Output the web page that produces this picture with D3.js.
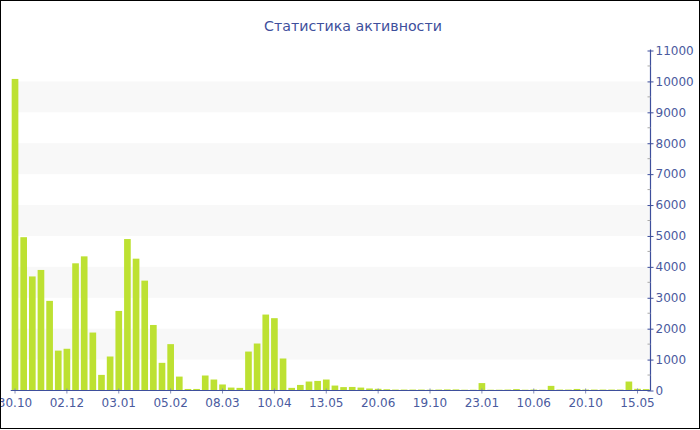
<!DOCTYPE html>
<html>
<head>
<meta charset="utf-8">
<script src="https://cdn.jsdelivr.net/npm/d3@7"></script>
<style>
  html, body { margin: 0; padding: 0; background: #fff; }
  svg { display: block; font-family: "DejaVu Sans", Verdana, sans-serif; }
</style>
</head>
<body>
<svg id="chart" width="700" height="430"></svg>
<script>
const title = "Статистика активности";
const values = [
  10080, 4960, 3690, 3900, 2900, 1290, 1350, 4115, 4340, 1875,
  505, 1100, 2575, 4900, 4265, 3555, 2120, 895, 1500, 450,
  50, 50, 485, 355, 195, 95, 85, 1260, 1520, 2457,
  2340, 1035, 85, 180, 290, 310, 355, 160, 110, 115,
  95, 65, 55, 40, 30, 30, 30, 30, 25, 30,
  35, 35, 25, 25, 240, 25, 25, 30, 45, 25,
  30, 25, 150, 30, 30, 50, 30, 30, 30, 30,
  30, 290, 55, 45
];
const tickLabels = ["30.10", "02.12", "03.01", "05.02", "08.03", "10.04", "13.05",
                    "20.06", "19.10", "23.01", "10.06", "20.10", "15.05"];
const tickEvery = 6;
const yTicks = d3.range(0, 11001, 1000);
const yMinor = d3.range(500, 11000, 1000);

(function () {
const svg = d3.select("#chart");
const W = 700, H = 430;
const mLeft = 10.7, mRight = 650.5, mTop = 50.5, mBottom = 390.5;

svg.append("rect").attr("x", 0).attr("y", 0).attr("width", W).attr("height", H).attr("fill", "#fff");

const cats = values.map((v, i) => i);
const x = d3.scaleBand().domain(cats).range([mLeft, mRight]).paddingInner(0.23).paddingOuter(0.115);
const y = d3.scaleLinear().domain([0, 11000]).range([mBottom, mTop]);

// alternating bands
const bands = d3.range(1000, 11000, 2000);
svg.append("g").selectAll("rect").data(bands).join("rect")
  .attr("x", mLeft + 1).attr("width", mRight - mLeft - 1)
  .attr("y", d => y(d + 1000)).attr("height", d => y(d) - y(d + 1000))
  .attr("fill", "#f8f8f8");

// bars
svg.append("g").selectAll("rect").data(values).join("rect")
  .attr("x", (d, i) => x(i)).attr("width", x.bandwidth())
  .attr("y", d => y(d)).attr("height", d => mBottom - y(d))
  .attr("fill", "#bde132");

// x axis
const tickIdx = tickLabels.map((t, k) => k * tickEvery);
const xAxis = d3.axisBottom(x).tickValues(tickIdx)
  .tickFormat(i => tickLabels[i / tickEvery]).tickSize(3).tickPadding(5);
const gx = svg.append("g").attr("transform", `translate(0,${mBottom})`).call(xAxis);
gx.select(".domain").remove();
gx.append("line").attr("x1", mLeft).attr("x2", mRight).attr("y1", 0).attr("y2", 0)
  .attr("stroke", "#3e4f9c").attr("stroke-width", 1.2);
gx.selectAll(".tick line").attr("y1", -2).attr("y2", 3).attr("stroke", "#8890b8");
gx.selectAll(".tick text").attr("fill", "#4a5a9e").attr("font-size", 12)
  .attr("font-family", "DejaVu Sans, Verdana, sans-serif");

// y axis (right)
const yAxis = d3.axisRight(y).tickValues(yTicks).tickFormat(d3.format("d")).tickSize(3).tickPadding(2);
const gy = svg.append("g").attr("transform", `translate(${mRight},0)`).call(yAxis);
gy.select(".domain").attr("stroke", "#3e4f9c").attr("stroke-width", 1.2).attr("d", `M0,${mTop - 1}V${mBottom}`);
gy.selectAll(".tick line").attr("x1", -3).attr("x2", 3).attr("stroke", "#3e4f9c");
gy.selectAll(".tick text").attr("fill", "#4a5a9e").attr("font-size", 12)
  .attr("font-family", "DejaVu Sans, Verdana, sans-serif");
gy.append("g").selectAll("line").data(yMinor).join("line")
  .attr("x1", -3).attr("x2", 0).attr("y1", d => y(d)).attr("y2", d => y(d))
  .attr("stroke", "#aaaaaa");

// title
svg.append("text").attr("x", 353).attr("y", 31).attr("text-anchor", "middle")
  .attr("fill", "#3e4f9c").attr("font-size", 14.2).text(title);

// frame
svg.append("rect").attr("x", 0.5).attr("y", 0.5).attr("width", W - 1).attr("height", H - 2)
  .attr("fill", "none").attr("stroke", "#000").attr("stroke-width", 1);
})();
</script>
</body>
</html>
